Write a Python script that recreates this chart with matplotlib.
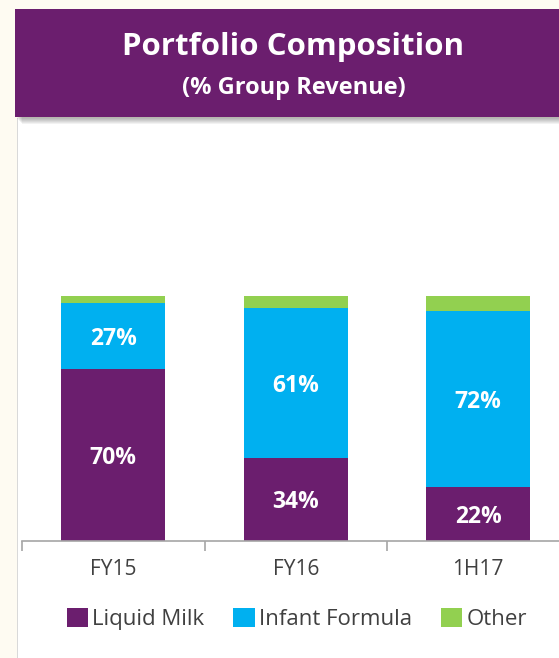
import matplotlib
matplotlib.use("Agg")
from matplotlib import pyplot as plt
from matplotlib.patches import Rectangle, Patch
import numpy as np

categories = ["FY15", "FY16", "1H17"]
liquid_milk = [70, 34, 22]
infant_formula = [27, 61, 72]
other = [3, 5, 6]
series_names = ["Liquid Milk", "Infant Formula", "Other"]

PURPLE = "#6B1E6E"
BLUE = "#00B0F0"
GREEN = "#92D050"
BEIGE = "#FEFBF2"
W, H = 559, 658

plt.rcParams['font.family'] = ['Open Sans', 'DejaVu Sans']

fig = plt.figure(figsize=(W / 100, H / 100), dpi=100, facecolor=BEIGE)

# white panel + thin left border
fig.patches.append(Rectangle((18 / W, 0), 1, (H - 118) / H, transform=fig.transFigure,
                             facecolor="white", edgecolor="none", zorder=0))
fig.patches.append(Rectangle((17 / W, 0), 1.2 / W, (H - 118) / H, transform=fig.transFigure,
                             facecolor="#D9D9D9", edgecolor="none", zorder=1))

# header shadow and box
for k in range(6):
    fig.patches.append(Rectangle(((17 + k) / W, (H - 117 - 2 - k) / H), (W - 17) / W, (108) / H,
                                 transform=fig.transFigure, facecolor="black",
                                 alpha=0.05, edgecolor="none", zorder=1))
fig.patches.append(Rectangle((15 / W, (H - 117) / H), (W - 15) / W, 108 / H,
                             transform=fig.transFigure, facecolor=PURPLE,
                             edgecolor="none", zorder=2))
fig.text(293 / W, 1 - 47 / H, "Portfolio Composition", color="white", fontsize=22.5,
         fontweight="bold", ha="center", va="center", zorder=3)
fig.text(294 / W, 1 - 88 / H, "(% Group Revenue)", color="white", fontsize=17,
         fontweight="bold", ha="center", va="center", zorder=3)

# chart axes
ax = fig.add_axes([22 / W, (H - 541) / H, 547.5 / W, 245 / H], zorder=5)
ax.set_facecolor("none")
x = np.arange(len(categories))
bw = 0.57
ax.bar(x, liquid_milk, bw, color=PURPLE, zorder=2)
ax.bar(x, infant_formula, bw, bottom=liquid_milk, color=BLUE, zorder=2)
bottom3 = [a + b for a, b in zip(liquid_milk, infant_formula)]
ax.bar(x, other, bw, bottom=bottom3, color=GREEN, zorder=2)

for i in range(len(categories)):
    ax.text(x[i], liquid_milk[i] / 2, f"{liquid_milk[i]}%", color="white", fontsize=16.5,
            fontweight="bold", ha="center", va="center_baseline")
    ax.text(x[i], liquid_milk[i] + infant_formula[i] / 2, f"{infant_formula[i]}%",
            color="white", fontsize=16.5, fontweight="bold", ha="center", va="center_baseline")

ax.set_xlim(-0.5, 2.5)
ax.set_ylim(0, 100)
for s in ["top", "right", "left"]:
    ax.spines[s].set_visible(False)
ax.spines["bottom"].set_color("#A6A6A6")
ax.spines["bottom"].set_linewidth(1.2)
ax.set_yticks([])
ax.set_xticks([-0.5, 0.5, 1.5, 2.5])
ax.set_xticklabels([])
ax.tick_params(axis="x", which="major", length=7, color="#A6A6A6", width=1.2)
ax.set_xticks(x, minor=True)
ax.set_xticklabels(categories, minor=True, fontsize=15, color="#404040")
ax.tick_params(axis="x", which="minor", length=0, pad=13)

handles = [Patch(facecolor=c, edgecolor="none") for c in [PURPLE, BLUE, GREEN]]
fig.legend(handles, series_names, loc="center", bbox_to_anchor=(297 / W, 39 / H),
           ncol=3, frameon=False, fontsize=16, handlelength=0.95, handleheight=0.95,
           handletextpad=0.2, columnspacing=1.3, labelcolor="#404040")

fig.savefig("out.png", dpi=100, facecolor=BEIGE)
